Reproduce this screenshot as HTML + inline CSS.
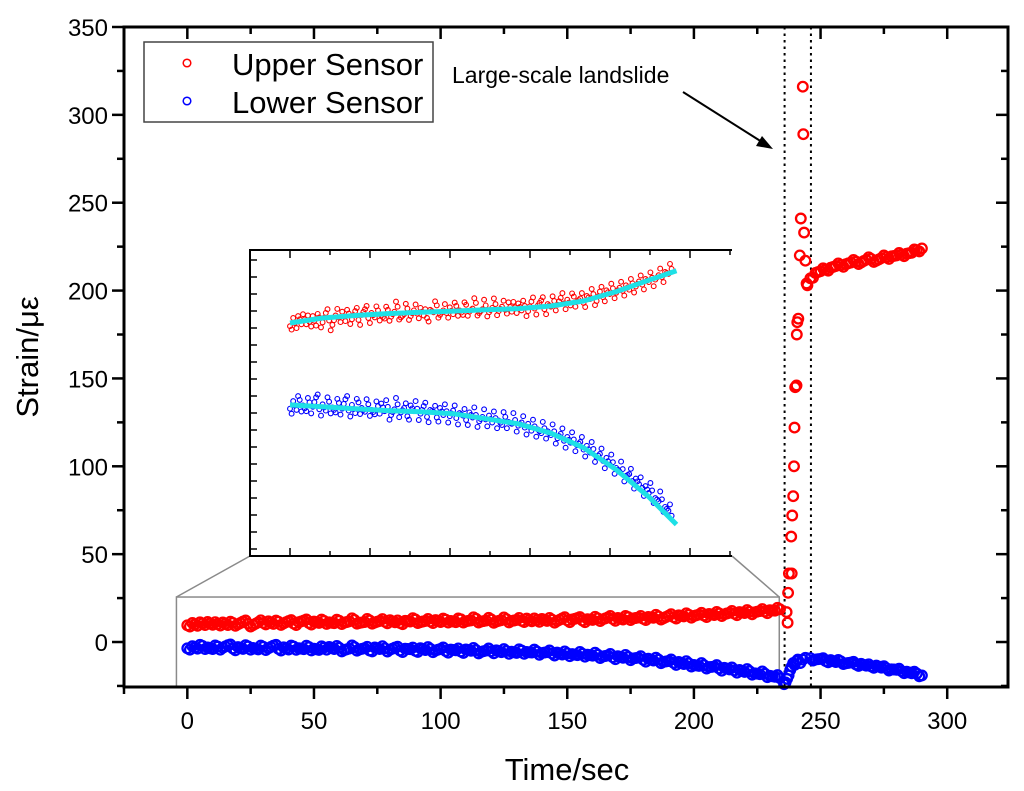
<!DOCTYPE html>
<html><head><meta charset="utf-8"><style>
html,body{margin:0;padding:0;background:#fff}
svg{display:block;font-family:"Liberation Sans",Arial,sans-serif}
</style></head><body>
<svg id="chart" width="1024" height="791" viewBox="0 0 1024 791" xmlns="http://www.w3.org/2000/svg">
<rect width="1024" height="791" fill="#fff"/>
<g id="main"></g>
<g id="inset"></g>
<g id="axes"></g>
<text x="567" y="780" font-size="31" text-anchor="middle" fill="#000">Time/sec</text>
<text transform="translate(38,357) rotate(-90)" font-size="31" text-anchor="middle" fill="#000">Strain/με</text>
<g>
<rect x="144" y="42" width="289" height="80" fill="#fff" stroke="#444" stroke-width="1.5"/>
<circle cx="187" cy="63" r="3.8" fill="none" stroke="#f00" stroke-width="1.5"/>
<text x="232" y="75" font-size="31" fill="#000">Upper Sensor</text>
<circle cx="187" cy="101" r="3.8" fill="none" stroke="#00f" stroke-width="1.5"/>
<text x="232" y="113" font-size="31" fill="#000">Lower Sensor</text>
</g>
<text x="452" y="83" font-size="23" fill="#000">Large-scale landslide</text>
<g>
<line x1="683" y1="92" x2="762" y2="142" stroke="#000" stroke-width="2"/>
<polygon points="773,149 756,146 762,136" fill="#000"/>
</g>
</svg>
<script>
// ---- data ----
const upperT0 = 0, stepT = 2;
const upperPre = [9.5,10.8,9.2,10.6,11.4,9.8,10.2,11.1,9.6,10.9,
10.1,11.6,10.4,9.7,11.2,10.9,11.8,10.3,11.5,10.6,
11.9,10.5,11.3,12.2,10.8,11.6,10.9,12.0,11.2,10.7,
12.1,11.0,11.8,12.6,10.9,11.4,12.3,11.1,12.0,11.5,
12.4,11.2,10.8,12.1,11.7,12.8,11.3,12.0,11.6,12.5,
11.4,12.7,12.0,11.3,12.9,11.8,12.3,13.2,11.6,12.2,
12.8,11.7,12.4,13.0,11.9,12.6,12.1,13.3,11.8,12.5,
13.1,12.0,12.7,11.9,13.4,12.3,12.8,13.6,12.2,13.0,
12.6,13.5,12.9,14.0,13.1,13.7,12.8,14.2,13.4,13.9,
13.2,14.3,13.8,14.6,13.5,15.0,14.1,15.2,14.6,15.5,
14.8,15.6,15.1,16.0,15.3,16.3,15.8,16.6,16.1,17.0,
16.5,17.2,16.9,17.6,17.3,18.1,17.8,18.6];
const lowerPre = [-3.6,-2.4,-3.8,-2.2,-3.1,-4.0,-2.6,-3.3,-1.8,-3.7,
-2.9,-3.9,-2.5,-3.4,-4.2,-2.7,-3.6,-2.1,-3.9,-3.0,
-4.3,-2.6,-3.5,-4.1,-2.9,-3.8,-4.5,-3.2,-2.8,-4.0,
-3.3,-4.6,-3.7,-2.9,-4.2,-3.5,-4.8,-3.1,-4.0,-3.6,
-4.4,-3.2,-4.9,-3.8,-4.1,-5.0,-3.5,-4.6,-4.0,-4.8,
-3.9,-5.1,-4.3,-4.7,-5.4,-4.2,-5.0,-4.6,-5.6,-4.9,
-5.3,-4.7,-5.8,-5.1,-5.5,-6.2,-4.9,-5.7,-6.0,-5.4,
-6.3,-5.8,-6.6,-6.0,-7.1,-6.4,-6.9,-7.5,-6.7,-7.2,
-7.8,-7.2,-8.3,-7.6,-8.7,-8.1,-9.0,-8.5,-9.4,-8.9,
-10.1,-9.5,-10.6,-10.0,-11.3,-10.8,-11.9,-11.4,-12.5,-12.1,
-13.0,-13.6,-13.2,-14.3,-14.0,-15.1,-14.7,-15.6,-16.2,-15.9,
-17.0,-16.6,-17.8,-18.3,-18.0,-19.2,-19.8,-20.6];
const spikeT = [236.6,237.0,237.2,237.5,238.6,238.4,238.8,239.2,239.5,239.7,240.0,240.5,240.6,240.8,241.2,241.8,242.2,243.0,243.2,243.5,244.0,244.5,244.8];
const spikeV = [17,11,28,39,39,60,72,83,100,122,145,146,175,182,184,220,241,316,289,233,217,204,203];
const postT0 = 246;
const upperPost = [207,210,211,212,213,214,214.5,215,216,216.5,216,217.5,218,217,218.5,219,219.5,220,220.5,221,221.5,223,224];
const lowerPostV = [-9.2,-10.0,-9.6,-10.8,-10.3,-11.4,-11.0,-12.1,-11.7,-12.8,-12.4,-13.5,-13.9,-13.4,-14.6,-14.9,-15.5,-15.8,-16.6,-16.9,-17.8,-18.0,-19.0];
const dipT = [235.6,236.2,236.8,237.4,238.0,238.6,239.2,239.8,240.4,241.0,242.0,243.0,244.0];
const dipV = [-24,-23,-21,-19,-16,-14,-12,-13,-11,-10,-12,-10,-9];
const fitT = [0,20,40,60,80,100,120,140,160,180,200,220,237];
const fitUpper = [10,10.8,11.2,11.5,11.7,11.9,12.1,12.3,12.7,13.5,15,16.8,18.3];
const fitLower = [-3,-3.3,-3.6,-3.9,-4.1,-4.4,-5.2,-6,-7.5,-9.8,-13.3,-17.6,-22];
const xTicks = [0,50,100,150,200,250,300];
const yTicks = [0,50,100,150,200,250,300,350];
const eventLines = [235.8,246.2];

// ---- scales ----
const X0=124,X1=1008,Y0=27,Y1=687;
const xMin=-25,xMax=324,yMin=-25.6,yMax=350;
const sx=t=>X0+(t-xMin)/(xMax-xMin)*(X1-X0);
const sy=v=>Y1-(v-yMin)/(yMax-yMin)*(Y1-Y0);
const IX0=250,IX1=732,IY0=250,IY1=556;
const ixMin=-24.5,ixMax=271,iyMin=-27,iyMax=21.6;
const isx=t=>IX0+(t-ixMin)/(ixMax-ixMin)*(IX1-IX0);
const isy=v=>IY1-(v-iyMin)/(iyMax-iyMin)*(IY1-IY0);

const NS='http://www.w3.org/2000/svg';
function mk(tag,parent,attrs){const e=document.createElementNS(NS,tag);for(const k in attrs)e.setAttribute(k,attrs[k]);parent.appendChild(e);return e;}
const main=document.getElementById('main'), inset=document.getElementById('inset'), axes=document.getElementById('axes');

const zb=mk('rect',main,{x:sx(-4.3),y:sy(25.6),width:sx(233.7)-sx(-4.3),height:Y1-sy(25.6),fill:'none',stroke:'#8a8a8a','stroke-width':1.5});


const c1=mk('line',main,{x1:sx(-4.3),y1:sy(25.6),x2:IX0,y2:IY1,stroke:'#8a8a8a','stroke-width':1.5});


const c2=mk('line',main,{x1:sx(233.7),y1:sy(25.6),x2:IX1,y2:IY1,stroke:'#8a8a8a','stroke-width':1.5});



eventLines.forEach((t,i)=>{
  const l=mk('line',main,{x1:sx(t),y1:Y0,x2:sx(t),y2:Y1,stroke:'#000','stroke-width':2,'stroke-dasharray':'2.5,4'});
  
  
});

function pt(parent,x,y,r,col,w,name){
  const c=mk('circle',parent,{cx:x.toFixed(1),cy:y.toFixed(1),r:r,fill:'none',stroke:col,'stroke-width':w});
  
  
}
const R=4.8,W=2.3;
upperPre.forEach((v,i)=>pt(main,sx(upperT0+i*stepT),sy(v),R,'#f00',W,'upper-point'));
upperPre.forEach((v,i)=>{if(i<upperPre.length-1)pt(main,sx(i*stepT+1),sy((v+upperPre[i+1])/2+((i%3)-1)*1.3),R,'#f00',W,'upper-point');});
lowerPre.forEach((v,i)=>pt(main,sx(upperT0+i*stepT),sy(v),R,'#00f',W,'lower-point'));
lowerPre.forEach((v,i)=>{if(i<lowerPre.length-1)pt(main,sx(i*stepT+1),sy((v+lowerPre[i+1])/2+((i%3)-1)*1.4),R,'#00f',W,'lower-point');});
dipV.forEach((v,i)=>pt(main,sx(dipT[i]),sy(v),R,'#00f',W,'lower-point'));
lowerPostV.forEach((v,i)=>pt(main,sx(postT0+i*stepT),sy(v),R,'#00f',W,'lower-point'));
lowerPostV.forEach((v,i)=>{if(i<lowerPostV.length-1)pt(main,sx(postT0+i*stepT+1),sy((v+lowerPostV[i+1])/2+((i%3)-1)*1.0),R,'#00f',W,'lower-point');});
spikeV.forEach((v,i)=>pt(main,sx(spikeT[i]),sy(v),R,'#f00',W,'upper-point'));
upperPost.forEach((v,i)=>pt(main,sx(postT0+i*stepT),sy(v),R,'#f00',W,'upper-point'));
upperPost.forEach((v,i)=>{if(i<upperPost.length-1)pt(main,sx(postT0+i*stepT+1),sy((v+upperPost[i+1])/2+((i%3)-1)*1.2),R,'#f00',W,'upper-point');});

// inset
mk('rect',inset,{x:IX0,y:IY0,width:IX1-IX0,height:IY1-IY0,fill:'#fff'});
const ib=mk('path',inset,{d:`M${IX1},${IY0}H${IX0}V${IY1}H${IX1}`,fill:'none',stroke:'#000','stroke-width':2});


for(let x=290;x<=IX1;x+=40){mk('line',inset,{x1:x,y1:IY1,x2:x,y2:IY1-(((x-290)/40)%2?5:8),stroke:'#000','stroke-width':1.5});
  mk('line',inset,{x1:x,y1:IY0,x2:x,y2:IY0+(((x-290)/40)%2?5:8),stroke:'#000','stroke-width':1.5});}
for(let y=IY0+10;y<IY1;y+=17){mk('line',inset,{x1:IX0,y1:y,x2:IX0+7,y2:y,stroke:'#000','stroke-width':1.5});}
upperPre.forEach((v,i)=>pt(inset,isx(upperT0+i*stepT),isy(v),2.4,'#f00',1.1,'inset-upper-point'));
lowerPre.forEach((v,i)=>pt(inset,isx(upperT0+i*stepT),isy(v),2.4,'#00f',1.1,'inset-lower-point'));
upperPre.forEach((v,i)=>{if(i<upperPre.length-1)pt(inset,isx(i*stepT+1),isy((v+upperPre[i+1])/2+((i%3)-1)*1.2),2.4,'#f00',1.1,'inset-upper-point');});
lowerPre.forEach((v,i)=>{if(i<lowerPre.length-1)pt(inset,isx(i*stepT+1),isy((v+lowerPre[i+1])/2+((i%3)-1)*1.4),2.4,'#00f',1.1,'inset-lower-point');});
function fitPath(vals){let d='';fitT.forEach((t,i)=>{d+=(i?'L':'M')+isx(t).toFixed(1)+','+isy(vals[i]).toFixed(1);});return d;}
const fu=mk('path',inset,{d:fitPath(fitUpper),fill:'none',stroke:'#1ee0e6','stroke-width':5,'stroke-linejoin':'round'});


const fl=mk('path',inset,{d:fitPath(fitLower),fill:'none',stroke:'#1ee0e6','stroke-width':5,'stroke-linejoin':'round'});



// main axes
const frame=mk('rect',axes,{x:X0,y:Y0,width:X1-X0,height:Y1-Y0,fill:'none',stroke:'#000','stroke-width':3});


for(let v=-25;v<=350;v+=25){const y=sy(v);const maj=v%50===0;
  mk('line',axes,{x1:X0,y1:y,x2:X0-(maj?12:7),y2:y,stroke:'#000','stroke-width':2.5});
  mk('line',axes,{x1:X1,y1:y,x2:X1-(maj?12:7),y2:y,stroke:'#000','stroke-width':2.5});}
for(let t=-25;t<=324;t+=25){const x=sx(t);const maj=t%50===0;
  mk('line',axes,{x1:x,y1:Y1,x2:x,y2:Y1+(maj?12:7),stroke:'#000','stroke-width':2.5});
  mk('line',axes,{x1:x,y1:Y0,x2:x,y2:Y0+(maj?12:7),stroke:'#000','stroke-width':2.5});}
yTicks.forEach(v=>{const t=mk('text',axes,{x:X0-16,y:sy(v)+9,'font-size':24,'text-anchor':'end',fill:'#000'});t.textContent=v;
  
  });
xTicks.forEach(v=>{const t=mk('text',axes,{x:sx(v),y:729,'font-size':24,'text-anchor':'middle',fill:'#000'});t.textContent=v;
  
  });
</script>
</body></html>
